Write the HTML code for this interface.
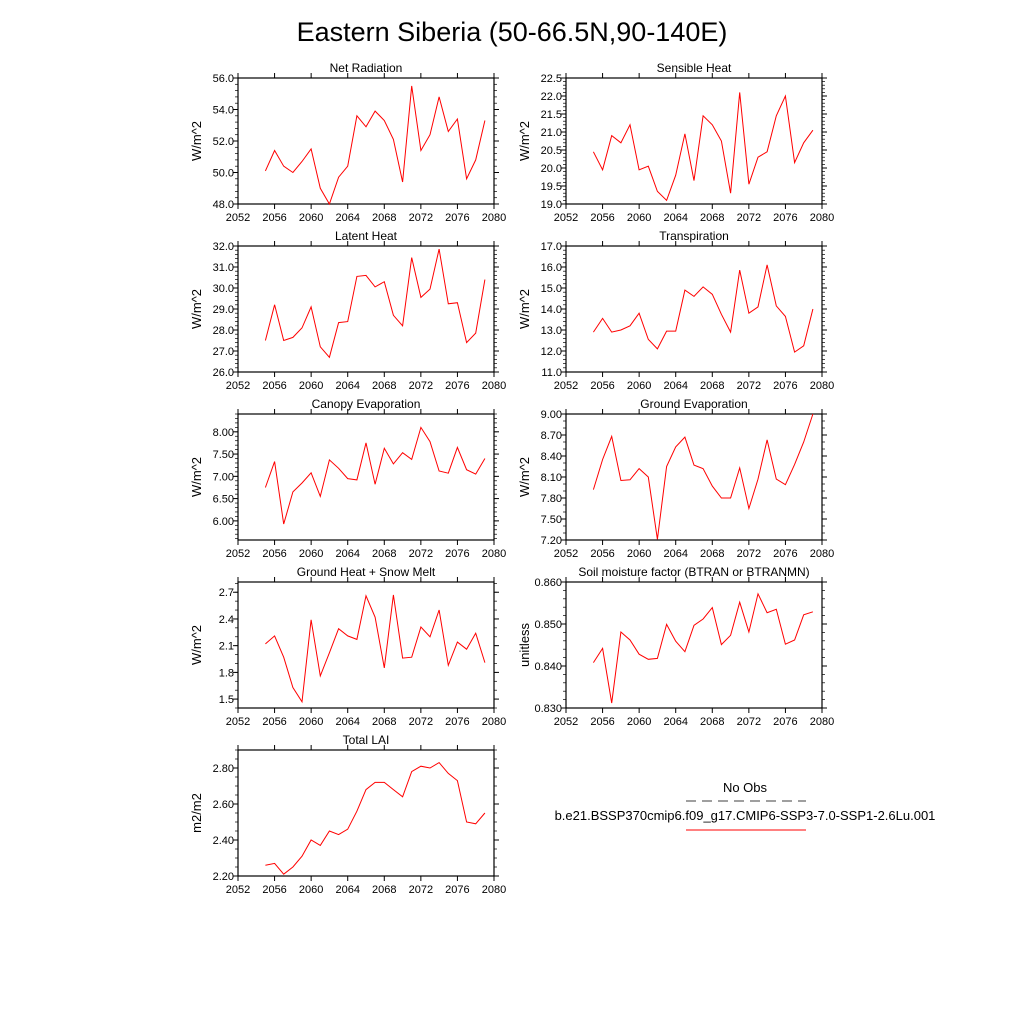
<!DOCTYPE html>
<html><head><meta charset="utf-8"><style>
html,body{margin:0;padding:0;background:#fff;}
svg{display:block;font-family:"Liberation Sans",sans-serif;}
</style></head><body>
<svg id="chart" width="1024" height="1024" viewBox="0 0 1024 1024" xmlns="http://www.w3.org/2000/svg">
<rect width="1024" height="1024" fill="#fff"/>
<text x="512" y="41" font-size="27" text-anchor="middle">Eastern Siberia (50-66.5N,90-140E)</text>
<g>
<text x="745" y="792" font-size="13" text-anchor="middle">No Obs</text>
<line x1="686" y1="801" x2="806" y2="801" stroke="#000" stroke-width="0.8" stroke-dasharray="10,6"/>
<text x="745" y="820" font-size="13" text-anchor="middle">b.e21.BSSP370cmip6.f09_g17.CMIP6-SSP3-7.0-SSP1-2.6Lu.001</text>
<line x1="686" y1="830" x2="806" y2="830" stroke="red" stroke-width="1"/>
</g>
</svg>
<script>
const years = [2055,2056,2057,2058,2059,2060,2061,2062,2063,2064,2065,2066,2067,2068,2069,2070,2071,2072,2073,2074,2075,2076,2077,2078,2079];
const xTicks = [2052,2056,2060,2064,2068,2072,2076,2080];
const netRad = [50.1,51.4,50.4,50.0,50.7,51.5,49.0,48.0,49.7,50.4,53.6,52.9,53.9,53.3,52.1,49.4,55.5,51.4,52.4,54.8,52.6,53.4,49.6,50.8,53.3];
const sensible = [20.45,19.95,20.9,20.7,21.2,19.95,20.05,19.35,19.1,19.8,20.95,19.65,21.45,21.2,20.75,19.3,22.1,19.55,20.3,20.45,21.45,22.0,20.15,20.7,21.05];
const latent = [27.5,29.2,27.5,27.65,28.1,29.1,27.2,26.7,28.35,28.4,30.55,30.6,30.05,30.3,28.7,28.2,31.45,29.55,29.95,31.85,29.25,29.3,27.4,27.85,30.4];
const transp = [12.9,13.55,12.9,13.0,13.2,13.8,12.55,12.1,12.95,12.95,14.9,14.6,15.05,14.7,13.75,12.9,15.85,13.8,14.1,16.1,14.15,13.65,11.95,12.25,14.0];
const canopy = [6.75,7.33,5.93,6.65,6.85,7.08,6.55,7.37,7.18,6.95,6.92,7.75,6.82,7.63,7.28,7.53,7.38,8.10,7.78,7.12,7.07,7.65,7.15,7.05,7.40];
const groundEvap = [7.92,8.35,8.68,8.05,8.06,8.22,8.10,7.21,8.25,8.53,8.67,8.27,8.22,7.97,7.80,7.80,8.23,7.65,8.07,8.63,8.07,7.99,8.28,8.60,9.00];
const groundHeat = [2.12,2.21,1.97,1.63,1.47,2.39,1.76,2.02,2.29,2.21,2.17,2.66,2.42,1.85,2.67,1.96,1.97,2.31,2.20,2.50,1.88,2.14,2.06,2.24,1.91];
const soil = [0.8408,0.8442,0.8312,0.8481,0.8462,0.8428,0.8416,0.8418,0.8499,0.8459,0.8434,0.8497,0.8512,0.8539,0.8451,0.8473,0.8552,0.8481,0.8572,0.8527,0.8535,0.8452,0.8462,0.8522,0.8529];
const lai = [2.26,2.27,2.21,2.25,2.31,2.40,2.37,2.45,2.43,2.46,2.56,2.68,2.72,2.72,2.68,2.64,2.78,2.81,2.80,2.83,2.77,2.73,2.50,2.49,2.55];
const ticksNet = [48,50,52,54,56];
const ticksSens = [19,19.5,20,20.5,21,21.5,22,22.5];
const ticksLat = [26,27,28,29,30,31,32];
const ticksTr = [11,12,13,14,15,16,17];
const ticksCan = [6,6.5,7,7.5,8];
const ticksGE = [7.2,7.5,7.8,8.1,8.4,8.7,9.0];
const ticksGH = [1.5,1.8,2.1,2.4,2.7];
const ticksSoil = [0.83,0.84,0.85,0.86];
const ticksLai = [2.2,2.4,2.6,2.8];

const NS="http://www.w3.org/2000/svg";
const svg=document.getElementById('chart');
function mk(tag,attrs,parent){const e=document.createElementNS(NS,tag);for(const k in attrs)e.setAttribute(k,attrs[k]);parent.appendChild(e);return e;}

const panels=[
 {name:'net-radiation',title:'Net Radiation',unit:'W/m^2',x:238,y:78,data:netRad,ticks:ticksNet,ymin:48,ymax:56,dec:1,minor:4},
 {name:'sensible-heat',title:'Sensible Heat',unit:'W/m^2',x:566,y:78,data:sensible,ticks:ticksSens,ymin:19,ymax:22.5,dec:1,minor:4},
 {name:'latent-heat',title:'Latent Heat',unit:'W/m^2',x:238,y:246,data:latent,ticks:ticksLat,ymin:26,ymax:32,dec:1,minor:4},
 {name:'transpiration',title:'Transpiration',unit:'W/m^2',x:566,y:246,data:transp,ticks:ticksTr,ymin:11,ymax:17,dec:1,minor:4},
 {name:'canopy-evaporation',title:'Canopy Evaporation',unit:'W/m^2',x:238,y:414,data:canopy,ticks:ticksCan,ymin:5.57,ymax:8.40,dec:2,minor:4},
 {name:'ground-evaporation',title:'Ground Evaporation',unit:'W/m^2',x:566,y:414,data:groundEvap,ticks:ticksGE,ymin:7.2,ymax:9.0,dec:2,minor:2},
 {name:'ground-heat-snow-melt',title:'Ground Heat + Snow Melt',unit:'W/m^2',x:238,y:582,data:groundHeat,ticks:ticksGH,ymin:1.40,ymax:2.815,dec:1,minor:2},
 {name:'soil-moisture-factor',title:'Soil moisture factor (BTRAN or BTRANMN)',unit:'unitless',x:566,y:582,data:soil,ticks:ticksSoil,ymin:0.83,ymax:0.86,dec:3,minor:4},
 {name:'total-lai',title:'Total LAI',unit:'m2/m2',x:238,y:750,data:lai,ticks:ticksLai,ymin:2.2,ymax:2.90,dec:2,minor:3}
];
const W=256,H=126;
panels.forEach(p=>{
 const g=mk('g',{},svg);
 
 
 const sx=v=>p.x+(v-2052)/(2080-2052)*W;
 const sy=v=>p.y+H-(v-p.ymin)/(p.ymax-p.ymin)*H;
 const t=mk('text',{x:p.x+W/2,y:p.y-6,'font-size':12,'text-anchor':'middle'},g);t.textContent=p.title;
 
 
 const yt=mk('text',{transform:`translate(${p.x-37},${p.y+H/2}) rotate(-90)`,'font-size':13,'text-anchor':'middle'},g);yt.textContent=p.unit;
 
 
 // x ticks
 xTicks.forEach(v=>{const X=sx(v);
  mk('line',{x1:X,y1:p.y+H,x2:X,y2:p.y+H+5,stroke:'#000'},g);
  mk('line',{x1:X,y1:p.y,x2:X,y2:p.y-5,stroke:'#000'},g);
  const l=mk('text',{x:X,y:p.y+H+17,'font-size':11,'text-anchor':'middle'},g);l.textContent=v;
  
  
 });
 // y ticks
 const step=p.ticks[1]-p.ticks[0];
 for(let i=0;i<p.ticks.length;i++){const v=p.ticks[i];const Y=sy(v);
  mk('line',{x1:p.x,y1:Y,x2:p.x-5,y2:Y,stroke:'#000'},g);
  mk('line',{x1:p.x+W,y1:Y,x2:p.x+W+5,y2:Y,stroke:'#000'},g);
  const l=mk('text',{x:p.x-4,y:Y+4,'font-size':11,'text-anchor':'end'},g);l.textContent=v.toFixed(p.dec);
  
  
 }
 const lo=p.ticks[0]-step,hi=p.ticks[p.ticks.length-1]+step;
 for(let v=lo;v<=hi+1e-9;v+=step/(p.minor+1)){
  if(v<p.ymin-1e-9||v>p.ymax+1e-9)continue;const Y=sy(v);
  mk('line',{x1:p.x,y1:Y,x2:p.x-3,y2:Y,stroke:'#000','stroke-width':0.7},g);
  mk('line',{x1:p.x+W,y1:Y,x2:p.x+W+3,y2:Y,stroke:'#000','stroke-width':0.7},g);
 }
 const r=mk('rect',{x:p.x,y:p.y,width:W,height:H,fill:'none',stroke:'#000','stroke-width':1.2},g);
 
 
 const pts=years.map((yr,i)=>sx(yr).toFixed(1)+','+sy(p.data[i]).toFixed(1)).join(' ');
 const line=mk('polyline',{points:pts,fill:'none',stroke:'red','stroke-width':1},g);
 
 
});
</script>
</body></html>
